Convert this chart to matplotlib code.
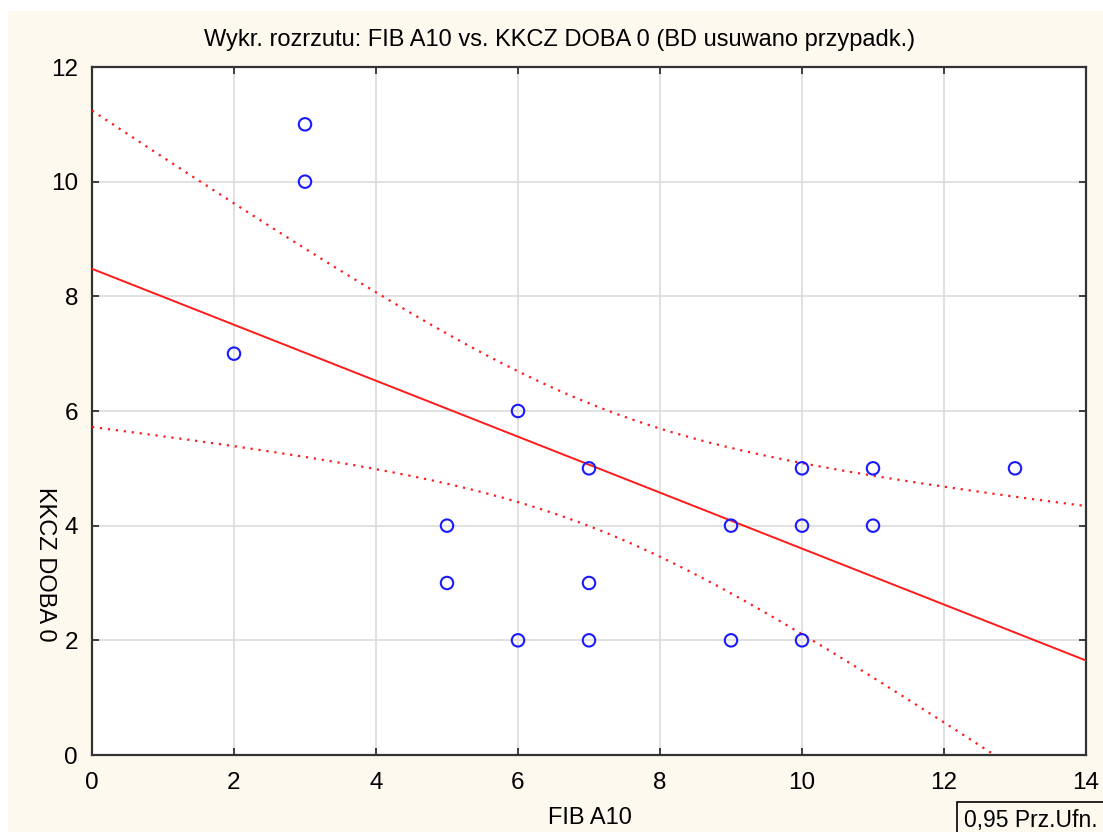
import matplotlib.pyplot as plt
import numpy as np
from matplotlib.patches import Rectangle

plt.rcParams['font.family'] = ['Liberation Sans', 'DejaVu Sans']

# scatter data: FIB A10 vs KKCZ DOBA 0
fib_a10 = [2, 3, 3, 5, 5, 6, 6, 7, 7, 7, 9, 9, 10, 10, 10, 11, 11, 13]
kkcz_doba0 = [7, 11, 10, 4, 3, 6, 2, 5, 3, 2, 4, 2, 5, 4, 2, 5, 4, 5]

# regression and 0.95 confidence band
intercept = 8.48
slope = -0.488
x_center = 7.1
half_width_center = 1.07
x_var = 8.92

xticks = [0, 2, 4, 6, 8, 10, 12, 14]
yticks = [0, 2, 4, 6, 8, 10, 12]

fig = plt.figure(figsize=(11.03, 8.32), dpi=100, facecolor='white')
fig.patches.append(Rectangle((8 / 1103, 0), 1, 1 - 11 / 832, transform=fig.transFigure,
                             facecolor='#fdf9ef', edgecolor='none', zorder=-10))

ax = fig.add_axes([92 / 1103, 1 - 755 / 832, 994 / 1103, 688 / 832])
ax.set_facecolor('white')

xs = np.linspace(0, 14, 300)
fit = intercept + slope * xs
hw = half_width_center * np.sqrt(1 + (xs - x_center) ** 2 / x_var)
ax.plot(xs, fit, color='#ff1a1a', lw=1.4, zorder=3)
ax.plot(xs, fit + hw, color='#ff1a1a', lw=1.6, ls=(0, (1, 2.6)), zorder=3)
ax.plot(xs, fit - hw, color='#ff1a1a', lw=1.6, ls=(0, (1, 2.6)), zorder=3)

ax.scatter(fib_a10, kkcz_doba0, s=80, facecolors='none', edgecolors='#1a1aff',
           linewidths=1.5, zorder=4)

ax.set_xlim(0, 14)
ax.set_ylim(0, 12)
ax.set_xticks(xticks)
ax.set_yticks(yticks)
ax.grid(True, color='#dcdcdc', lw=1.2, zorder=0)
ax.set_axisbelow(True)
ax.tick_params(direction='in', length=5, width=1.2, labelsize=17.5,
               top=True, right=True, colors='#222222', labelcolor='black')
ax.tick_params(axis='x', pad=12)
ax.tick_params(axis='y', pad=10)
for s in ax.spines.values():
    s.set_linewidth(1.6)
    s.set_color('#333333')

fig.text(560 / 1103, 1 - 40 / 832,
         'Wykr. rozrzutu: FIB A10 vs. KKCZ DOBA 0 (BD usuwano przypadk.)',
         ha='center', va='center', fontsize=17)
fig.text(590 / 1103, 1 - 818 / 832, 'FIB A10', ha='center', va='center', fontsize=17)
fig.text(45 / 1103, 1 - 564 / 832, 'KKCZ DOBA 0', ha='center', va='center',
         rotation=-90, fontsize=17)
fig.text(964 / 1103, 1 - 820 / 832, '0,95 Prz.Ufn.', ha='left', va='center', fontsize=16.5,
         bbox=dict(boxstyle='square,pad=0.3', facecolor='none', edgecolor='black', lw=1.2))

fig.savefig('out.png', dpi=100, facecolor='white')
plt.close(fig)
